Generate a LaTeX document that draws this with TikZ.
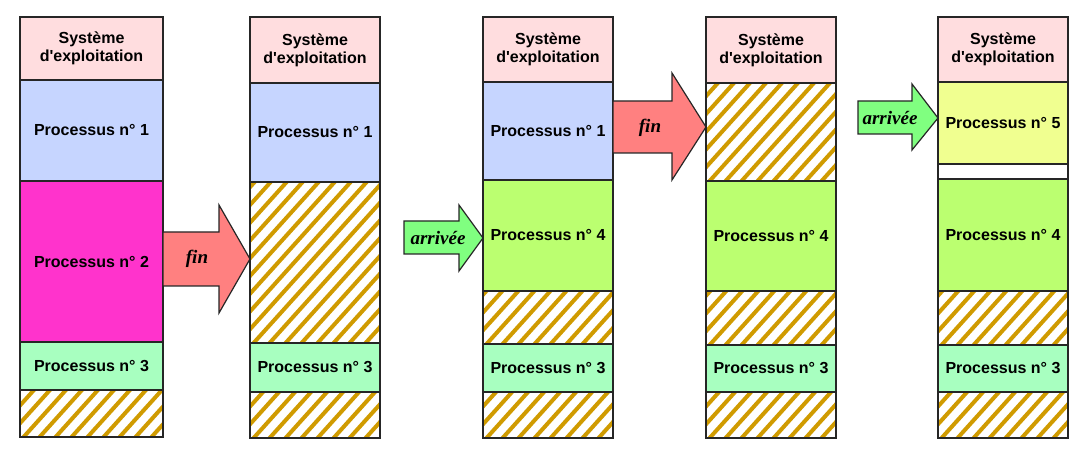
\documentclass[tikz,border=0pt]{standalone}
\usepackage{fontspec}
\setmainfont{Liberation Serif}
\newfontfamily\arial{Liberation Sans}
\usetikzlibrary{calc}

\definecolor{sysfill}{RGB}{255,221,223}
\definecolor{pun}{RGB}{198,213,255}
\definecolor{pdeux}{RGB}{255,51,204}
\definecolor{ptrois}{RGB}{168,255,192}
\definecolor{pquatre}{RGB}{187,255,112}
\definecolor{pcinq}{RGB}{240,255,144}
\definecolor{orhachure}{RGB}{208,155,0}
\definecolor{rougefin}{RGB}{255,128,128}
\definecolor{vertarrivee}{RGB}{128,255,128}

\tikzset{
  bloc/.style={draw=black!85, line width=0.6pt, inner sep=0pt, align=center,
    font=\arial\bfseries\fontsize{8}{9}\selectfont},
  large/.style={minimum width=71.5pt},
  etroit/.style={minimum width=65pt},
  hachure/.style={draw=orhachure, line width=2pt},
  libre/.style={bloc, fill=white, path picture={
      \foreach \i in {-11,...,10}
        \draw[hachure] ($(path picture bounding box.south west)+(\i*8pt,-2pt)$) -- ++(82pt,91pt);
    }},
  fleche/.style={draw=black!85, line width=0.6pt},
  etiquette/.style={font=\bfseries\itshape\fontsize{9.5}{11}\selectfont}
}

\begin{document}
\begin{tikzpicture}[x=0.5pt,y=-0.5pt]
  \useasboundingbox (0,0) rectangle (1087,454);

  \node[bloc, large, fill=sysfill, minimum height=31.5pt] (os1) at (91.5,48.5) {Système\\d'exploitation};
  \node[bloc, large, fill=pun, minimum height=50.5pt] (c1p1) at (91.5,130.5) {Processus n° 1};
  \node[bloc, large, fill=pdeux, minimum height=80.5pt] (c1p2) at (91.5,261.5) {Processus n° 2};
  \node[bloc, large, fill=ptrois, minimum height=24pt] (c1p3) at (91.5,366) {Processus n° 3};
  \node[libre, large, minimum height=23.5pt] (c1l1) at (91.5,413.5) {};

  \node[bloc, etroit, fill=sysfill, minimum height=33pt] (os2) at (315,50) {Système\\d'exploitation};
  \node[bloc, etroit, fill=pun, minimum height=49.5pt] (c2p1) at (315,132.5) {Processus n° 1};
  \node[libre, etroit, minimum height=80.5pt] (c2l1) at (315,262.5) {};
  \node[bloc, etroit, fill=ptrois, minimum height=24.5pt] (c2p3) at (315,367.5) {Processus n° 3};
  \node[libre, etroit, minimum height=23pt] (c2l2) at (315,415) {};

  \node[bloc, etroit, fill=sysfill, minimum height=32.5pt] (os3) at (548,49.5) {Système\\d'exploitation};
  \node[bloc, etroit, fill=pun, minimum height=49pt] (c3p1) at (548,131) {Processus n° 1};
  \node[bloc, etroit, fill=pquatre, minimum height=55.5pt] (c3p4) at (548,235.5) {Processus n° 4};
  \node[libre, etroit, minimum height=26.5pt] (c3l1) at (548,317.5) {};
  \node[bloc, etroit, fill=ptrois, minimum height=24pt] (c3p3) at (548,368) {Processus n° 3};
  \node[libre, etroit, minimum height=23pt] (c3l2) at (548,415) {};

  \node[bloc, etroit, fill=sysfill, minimum height=33pt] (os4) at (771,50) {Système\\d'exploitation};
  \node[libre, etroit, minimum height=49pt] (c4l1) at (771,132) {};
  \node[bloc, etroit, fill=pquatre, minimum height=55pt] (c4p4) at (771,236) {Processus n° 4};
  \node[libre, etroit, minimum height=27pt] (c4l2) at (771,318) {};
  \node[bloc, etroit, fill=ptrois, minimum height=23.5pt] (c4p3) at (771,368.5) {Processus n° 3};
  \node[libre, etroit, minimum height=23pt] (c4l3) at (771,415) {};

  \node[bloc, etroit, fill=sysfill, minimum height=32.5pt] (os5) at (1003,49.5) {Système\\d'exploitation};
  \node[bloc, etroit, fill=pcinq, minimum height=41pt] (c5p5) at (1003,123) {Processus n° 5};
  \node[bloc, etroit, fill=white, minimum height=7.5pt] (c5vide) at (1003,171.5) {};
  \node[bloc, etroit, fill=pquatre, minimum height=56pt] (c5p4) at (1003,235) {Processus n° 4};
  \node[libre, etroit, minimum height=27pt] (c5l1) at (1003,318) {};
  \node[bloc, etroit, fill=ptrois, minimum height=23.5pt] (c5p3) at (1003,368.5) {Processus n° 3};
  \node[libre, etroit, minimum height=23pt] (c5l2) at (1003,415) {};

  \draw[fleche, fill=rougefin] (163,232) -- (219,232) -- (219,205) -- (250,259)
    -- (219,313) -- (219,286) -- (163,286) -- cycle;
  \node[etiquette] (fin1) at (197,259) {fin};

  \draw[fleche, fill=vertarrivee] (404,221) -- (459,221) -- (459,205) -- (483,238)
    -- (459,271) -- (459,254) -- (404,254) -- cycle;
  \node[etiquette] (arrivee1) at (438,238) {arrivée};

  \draw[fleche, fill=rougefin] (613,101) -- (672,101) -- (672,73) -- (706,127)
    -- (672,180) -- (672,153) -- (613,153) -- cycle;
  \node[etiquette] (fin2) at (650,128) {fin};

  \draw[fleche, fill=vertarrivee] (858,101) -- (912,101) -- (912,84) -- (938,118)
    -- (912,150) -- (912,134) -- (858,134) -- cycle;
  \node[etiquette] (arrivee2) at (890,118) {arrivée};
\end{tikzpicture}
\end{document}
